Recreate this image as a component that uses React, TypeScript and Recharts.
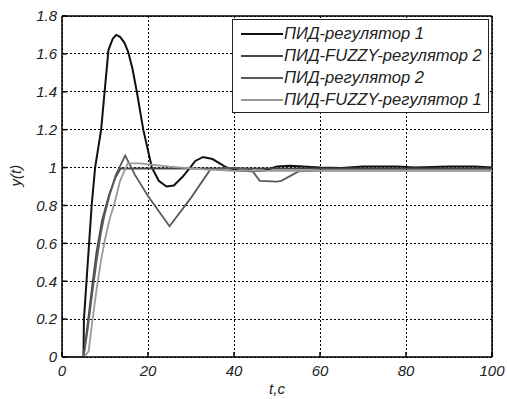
import React from 'react'
import {
  LineChart,
  Line,
  XAxis,
  YAxis,
  CartesianGrid,
  ReferenceLine,
  Legend,
} from 'recharts'

// time axis / response values
const tPid1 = [0, 5, 5.1, 5.7, 6.3, 6.9, 7.7, 9.1, 10.8, 11.8, 12.6, 13.5, 14.5, 15.4, 16.4, 17.4, 18.9, 20.9, 22.5, 24.3, 26, 28, 29.8, 31, 32.8, 35, 38.3, 41, 44, 47, 50, 53, 56, 60, 65, 70, 78, 82, 90, 96, 100]
const yPid1 = [0, 0, 0.2, 0.4, 0.6, 0.8, 1.0, 1.2, 1.62, 1.68, 1.7, 1.69, 1.66, 1.61, 1.52, 1.4, 1.2, 1.0, 0.93, 0.9, 0.905, 0.95, 1.0, 1.035, 1.056, 1.045, 1.0, 0.985, 0.98, 0.985, 1.005, 1.01, 1.005, 1.0, 0.998, 1.005, 1.005, 1.0, 1.005, 1.005, 1.0]

const tFuzzy2 = [0, 5, 6, 7, 8, 9.3, 11, 12.5, 13.6, 100]
const yFuzzy2 = [0, 0, 0.18, 0.37, 0.55, 0.72, 0.86, 0.95, 0.995, 0.995]

const tPid2 = [0, 5, 6, 7, 8, 9, 9.8, 11, 12.5, 14.7, 17, 20, 25, 30, 34.5, 40, 44, 46, 50, 51, 55, 60, 100]
const yPid2 = [0, 0, 0.15, 0.33, 0.5, 0.65, 0.74, 0.85, 0.96, 1.063, 0.96, 0.85, 0.69, 0.84, 0.99, 1.0, 0.99, 0.93, 0.926, 0.93, 0.98, 0.985, 0.985]

const tFuzzy1 = [0, 5, 6.2, 7, 8, 9, 10, 11, 12.3, 13.5, 15.3, 18, 25, 33, 40, 100]
const yFuzzy1 = [0, 0, 0.03, 0.18, 0.35, 0.5, 0.62, 0.72, 0.82, 0.93, 1.022, 1.022, 1.005, 0.99, 0.982, 0.982]

const xTicks = [0, 20, 40, 60, 80, 100]
const yTicks = [0, 0.2, 0.4, 0.6, 0.8, 1, 1.2, 1.4, 1.6, 1.8]
const yTickLabels = ['0', '0.2', '0.4', '0.6', '0.8', '1', '1.2', '1.4', '1.6', '1.8']

const seriesNames = ['ПИД-регулятор 1', 'ПИД-FUZZY-регулятор 2', 'ПИД-регулятор 2', 'ПИД-FUZZY-регулятор 1']
const seriesColors = ['#111111', '#474747', '#5a5a5a', '#9a9a9a']

const toPoints = (ts: number[], ys: number[]) => ts.map((t, i) => ({ t, y: ys[i] }))

const series = [
  toPoints(tPid1, yPid1),
  toPoints(tFuzzy2, yFuzzy2),
  toPoints(tPid2, yPid2),
  toPoints(tFuzzy1, yFuzzy1),
]

const FONT = '"Liberation Sans", Arial, sans-serif'
const tickStyle = { fontSize: 15, fontStyle: 'italic', fill: '#222', fontFamily: FONT }

function LegendBox() {
  return (
    <div
      style={{
        border: '1px solid #222',
        background: '#fff',
        width: 257,
        height: 94,
        boxSizing: 'border-box',
        padding: '3px 0 0 0',
        fontFamily: FONT,
        fontStyle: 'italic',
        fontSize: 16.6,
        color: '#222',
      }}
    >
      {seriesNames.map((name, i) => (
        <div key={name} style={{ display: 'flex', alignItems: 'center', height: 22 }}>
          <svg width={51} height={10} style={{ flex: 'none' }}>
            <line x1={8} y1={5} x2={50} y2={5} stroke={seriesColors[i]} strokeWidth={2} />
          </svg>
          <span style={{ whiteSpace: 'nowrap' }}>{name}</span>
        </div>
      ))}
    </div>
  )
}

export default function App() {
  return (
    <div style={{ position: 'absolute', left: 0, top: 0, background: '#fff' }}>
      <LineChart width={507} height={399} margin={{ top: 16, right: 15, bottom: 0, left: 0 }}>
        <CartesianGrid stroke="#000" strokeDasharray="2 2" shapeRendering="crispEdges" />
        <XAxis
          dataKey="t"
          type="number"
          domain={[0, 100]}
          ticks={xTicks}
          allowDuplicatedCategory={false}
          height={42}
          tick={tickStyle}
          tickSize={-5}
          tickMargin={13}
          stroke="#000"
          strokeWidth={1.5}
          label={{ value: 't,c', position: 'insideBottom', offset: 5, style: { ...tickStyle } }}
        />
        <YAxis
          dataKey="y"
          type="number"
          domain={[0, 1.8]}
          ticks={yTicks}
          width={62}
          tick={tickStyle}
          tickSize={-5}
          tickMargin={10}
          tickFormatter={(v: number) => yTickLabels[yTicks.indexOf(v)] ?? String(v)}
          stroke="#000"
          strokeWidth={1.5}
          label={{ value: 'y(t)', angle: -90, position: 'insideLeft', offset: 16, style: { ...tickStyle } }}
        />
        <ReferenceLine y={1.8} stroke="#000" strokeWidth={1.5} />
        <ReferenceLine x={100} stroke="#000" strokeWidth={1.5} />
        {series.map((pts, i) => (
          <Line
            key={seriesNames[i]}
            data={pts}
            dataKey="y"
            name={seriesNames[i]}
            type="linear"
            stroke={seriesColors[i]}
            strokeWidth={i === 0 ? 2 : 1.8}
            dot={false}
            isAnimationActive={false}
          />
        ))}
        <Legend
          layout="vertical"
          align="center"
          verticalAlign="middle"
          content={() => <LegendBox />}
          wrapperStyle={{ position: 'absolute', left: 232, top: 19, width: 'auto' }}
        />
      </LineChart>
    </div>
  )
}
